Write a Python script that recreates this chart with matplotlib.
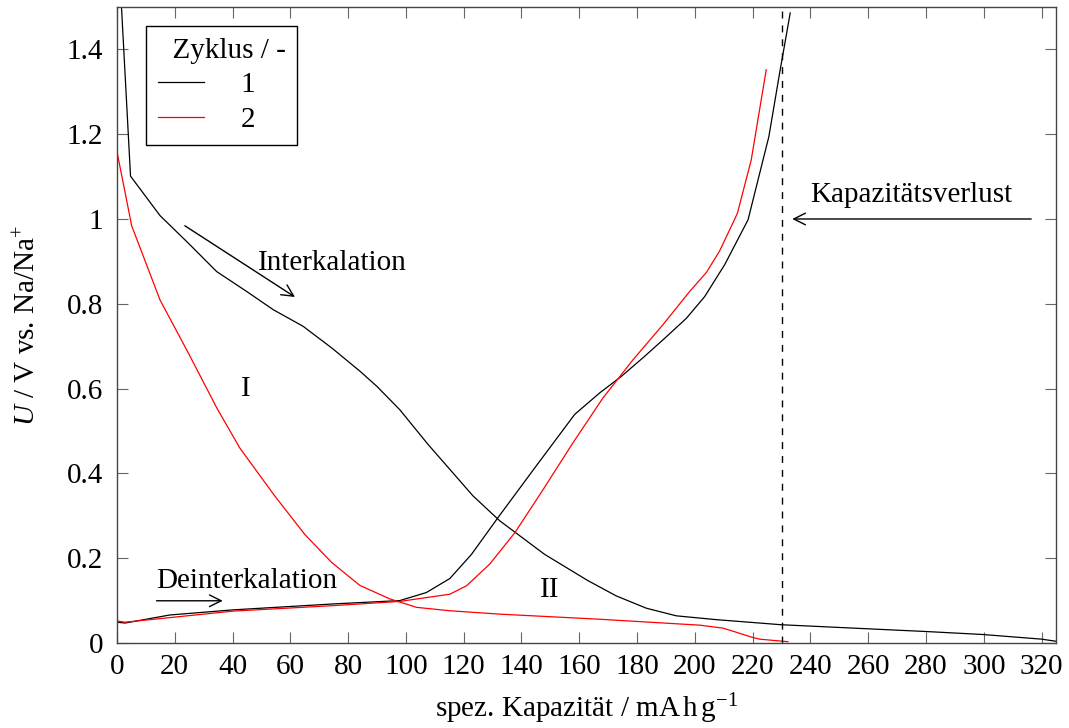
import matplotlib.pyplot as plt

plt.rcParams['font.family'] = ['Liberation Serif', 'DejaVu Serif']
plt.rcParams['mathtext.fontset'] = 'custom'
plt.rcParams['mathtext.rm'] = 'Liberation Serif'
plt.rcParams['mathtext.it'] = 'Liberation Serif:italic'
fs = 21
plt.rcParams['font.size'] = fs

# Zyklus 1 - Entladung (Interkalation)
cap_dis1 = [0, 4.7, 14.9, 24.7, 34.5, 44.9, 54.1, 64.4, 74.3, 84.1, 90.0, 97.9, 107.7,
            123.2, 132.5, 148.0, 163.0, 172.8, 183.2, 193.6, 207.4, 229.9, 280, 299.6, 320, 325]
u_dis1 = [1.70, 1.101, 1.008, 0.943, 0.876, 0.829, 0.786, 0.747, 0.696, 0.641, 0.605, 0.550, 0.468,
          0.347, 0.288, 0.209, 0.147, 0.111, 0.082, 0.064, 0.055, 0.043, 0.027, 0.020, 0.009, 0.004]
# Zyklus 1 - Ladung (Deinterkalation)
cap_ch1 = [0, 2.8, 18.3, 40, 74.7, 97.9, 107.1, 115.2, 122.7, 131.9, 144.6, 158.4, 167.1,
           174.6, 182.6, 190.1, 197.1, 203.4, 210.3, 218.4, 225.6, 229.3, 233]
u_ch1 = [0.049, 0.047, 0.066, 0.078, 0.092, 0.100, 0.119, 0.152, 0.209, 0.296, 0.413, 0.539, 0.590,
         0.629, 0.676, 0.722, 0.766, 0.817, 0.892, 0.998, 1.194, 1.343, 1.486]
# Zyklus 2 - Entladung
cap_dis2 = [0, 5.1, 14.9, 24.7, 34.5, 42.5, 54.7, 65, 74.3, 84, 94.4, 103.7, 115.2, 132.5,
            167, 201.7, 209.7, 212.6, 220, 222.4, 232.2]
u_dis2 = [1.159, 0.984, 0.809, 0.684, 0.555, 0.460, 0.346, 0.256, 0.190, 0.136, 0.104, 0.084,
          0.076, 0.068, 0.056, 0.042, 0.035, 0.029, 0.013, 0.009, 0.003]
# Zyklus 2 - Ladung
cap_ch2 = [0, 2.8, 40, 74.7, 97.9, 115.2, 121, 129, 137.7, 147.5, 157.8, 168.2, 178.6, 189,
           198.2, 204.0, 208.6, 214.7, 219.5, 224.7]
u_ch2 = [0.052, 0.049, 0.075, 0.088, 0.098, 0.115, 0.135, 0.186, 0.260, 0.362, 0.472, 0.578,
         0.668, 0.751, 0.829, 0.874, 0.925, 1.013, 1.139, 1.352]

cap_loss = 230

fig = plt.figure(figsize=(10.69, 7.28), dpi=100)
ax = fig.add_axes([0.1094, 0.1168, 0.8785, 0.8736])

lw = 0.9
ax.plot(cap_dis1, u_dis1, color='black', lw=lw, label='1')
ax.plot(cap_ch1, u_ch1, color='black', lw=lw)
ax.plot(cap_dis2, u_dis2, color='red', lw=lw, label='2')
ax.plot(cap_ch2, u_ch2, color='red', lw=lw)

ax.axvline(cap_loss, color='black', lw=1.0, ls=(0, (5, 5)))

ax.set_xlim(0, 325)
ax.set_ylim(0, 1.5)
ax.set_xticks(range(0, 321, 20))
yt = [0, 0.2, 0.4, 0.6, 0.8, 1.0, 1.2, 1.4]
ax.set_yticks(yt)
ax.set_yticklabels(['0', '0.2', '0.4', '0.6', '0.8', '1', '1.2', '1.4'])
ax.tick_params(direction='in', length=8, width=0.8, color='#666666',
               top=True, right=True, labelsize=fs)
ax.tick_params(axis='x', pad=8)
ax.tick_params(axis='y', pad=10)
for s in ax.spines.values():
    s.set_color('#444444')
    s.set_linewidth(1.0)

ax.set_xlabel(r'spez. Kapazität / mA$\,$h$\,$g$^{-1}$', fontsize=fs, labelpad=8)
ax.set_ylabel(r'$U$ / V vs. Na/Na$^{+}$', fontsize=fs, labelpad=18)

arrow = dict(arrowstyle='->', color='black', lw=1.0, shrinkA=0, shrinkB=0)
ax.annotate('', xy=(61.6, 0.816), xytext=(23.5, 0.984), arrowprops=arrow)
ax.text(74.4, 0.896, 'Interkalation', ha='center', va='center', fontsize=fs)
ax.annotate('', xy=(36.6, 0.0995), xytext=(13.7, 0.0995), arrowprops=arrow)
ax.text(44.9, 0.146, 'Deinterkalation', ha='center', va='center', fontsize=fs)
ax.annotate('', xy=(233.7, 1.0), xytext=(316.4, 1.0), arrowprops=arrow)
ax.text(275, 1.056, 'Kapazitätsverlust', ha='center', va='center', fontsize=fs)
ax.text(44.6, 0.598, 'I', ha='center', va='center', fontsize=fs)
ax.text(149.8, 0.125, 'II', ha='center', va='center', fontsize=fs)

leg = ax.legend(title='  Zyklus / -', loc='upper left', bbox_to_anchor=(0.031, 0.97),
                fontsize=fs, title_fontsize=fs, frameon=True, fancybox=False,
                edgecolor='black', framealpha=1, handlelength=1.6, alignment='left',
                handletextpad=1.25, borderpad=0.4, labelspacing=0.28, borderaxespad=0)
leg.get_frame().set_linewidth(1.0)

fig.savefig('out.png', dpi=100)
